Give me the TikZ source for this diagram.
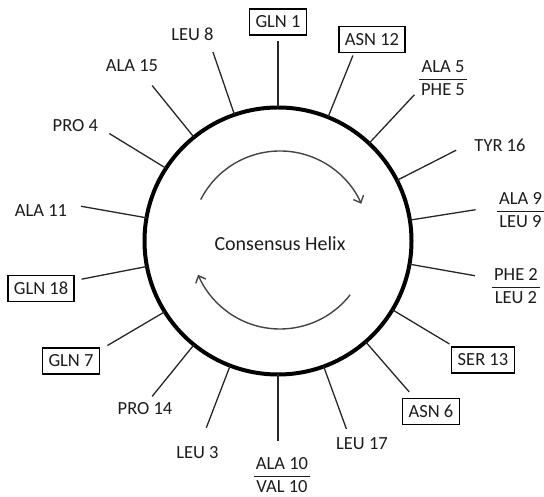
\documentclass[tikz,border=0pt]{standalone}
\usepackage{fontspec}
\setmainfont{Carlito}
\usetikzlibrary{arrows.meta,calc}
\definecolor{txtgray}{HTML}{1C1C1C}
\definecolor{arcgray}{HTML}{444444}
\setlength{\arrayrulewidth}{1pt}
\newcommand{\respair}[2]{\begin{tabular}{@{\hspace{2pt}}c@{\hspace{2pt}}}#1\\\hline #2\end{tabular}}
\tikzset{
  every node/.style={font=\fontsize{18.5}{22}\selectfont, text=txtgray},
  wheel/.style={
    draw=black, circle, line width=4pt,
    minimum size=267pt, inner sep=0pt, outer sep=0pt
  },
  res/.style={inner sep=0pt},
  resbox/.style={draw=black, line width=1.5pt, inner xsep=6pt, inner ysep=0pt, minimum height=26pt},
  spoke/.style={line width=1.3pt, draw=black!85},
  spin/.style={-{Straight Barb[length=6pt,width=11pt]}, line width=1.4pt, draw=arcgray}
}

\begin{document}
\begin{tikzpicture}[x=1pt,y=1pt]
\useasboundingbox (0,0) rectangle (544,497);

\node[wheel] (helix) at (278,256) {};
\node[font=\fontsize{20}{24}\selectfont] (title) at (280,253) {Consensus Helix};

% rotation arrows
\coordinate (spin) at (280,257);
\draw[spin] ($(spin)+(153:89)$) arc[start angle=153, end angle=24, radius=89];
\draw[spin] ($(spin)+(-38:89)$) arc[start angle=-38, end angle=-157, radius=89];

% spokes, one per residue
\foreach \n/\ang in {1/90, 12/68, 5/47, 16/27, 9/9, 2/-10, 13/-31, 6/-49, 17/-70,
  10/-90, 3/-111, 14/-129, 7/-148.5, 18/-169, 11/170, 4/147.5, 15/129, 8/109}
{
  \coordinate (tip\n) at ($(helix.center)+(\ang:200)$);
  \draw[spoke] (helix.\ang) -- (tip\n);
}

% residue labels
\node[resbox] (r1) at (278,475) {GLN 1};
\node[resbox] (r12) at (372,457.5) {ASN 12};
\node[res] (r5) at (443,417) {\respair{ALA 5}{PHE 5}};
\node[res] (r16) at (500,352) {TYR 16};
\node[res] (r9) at (520.5,285) {\respair{ALA 9}{LEU 9}};
\node[res] (r2) at (516,209) {\respair{PHE 2}{LEU 2}};
\node[resbox] (r13) at (483,137) {SER 13};
\node[resbox] (r6) at (431,85.5) {ASN 6};
\node[res] (r17) at (362,53) {LEU 17};
\node[res] (r10) at (282,20) {\respair{ALA 10}{VAL 10}};
\node[res] (r3) at (197.5,44.5) {LEU 3};
\node[res] (r14) at (145,88) {PRO 14};
\node[resbox] (r7) at (71,136) {GLN 7};
\node[resbox] (r18) at (41,208.5) {GLN 18};
\node[res] (r11) at (41,286) {ALA 11};
\node[res] (r4) at (75.3,371) {PRO 4};
\node[res] (r15) at (132,431) {ALA 15};
\node[res] (r8) at (192.5,463) {LEU 8};

\end{tikzpicture}
\end{document}
